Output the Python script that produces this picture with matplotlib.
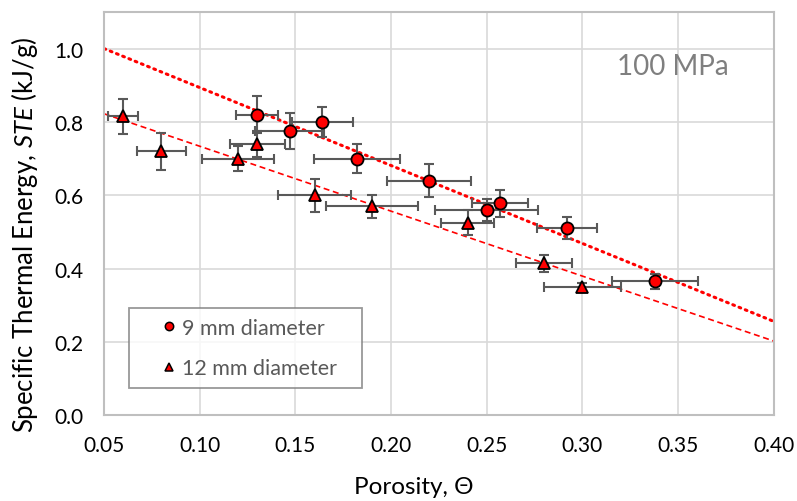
import numpy as np
import matplotlib
matplotlib.use('Agg')
import matplotlib.pyplot as plt

plt.rcParams['font.family'] = ['Lato', 'DejaVu Sans']
plt.rcParams['mathtext.fontset'] = 'custom'
plt.rcParams['mathtext.rm'] = 'Lato'
plt.rcParams['mathtext.it'] = 'Lato:italic'

# 9 mm diameter
x9 = [0.130, 0.147, 0.164, 0.182, 0.220, 0.250, 0.257, 0.292, 0.338]
y9 = [0.820, 0.775, 0.800, 0.700, 0.640, 0.560, 0.578, 0.510, 0.365]
x9err = [0.011, 0.018, 0.016, 0.0225, 0.022, 0.027, 0.0146, 0.0157, 0.0225]
y9err = [0.050, 0.050, 0.042, 0.040, 0.045, 0.030, 0.036, 0.030, 0.020]

# 12 mm diameter
x12 = [0.06, 0.08, 0.12, 0.13, 0.16, 0.19, 0.24, 0.28, 0.30]
y12 = [0.815, 0.720, 0.700, 0.740, 0.600, 0.570, 0.525, 0.415, 0.350]
x12err = [0.008, 0.013, 0.019, 0.0144, 0.019, 0.024, 0.014, 0.0146, 0.020]
y12err = [0.049, 0.050, 0.035, 0.035, 0.045, 0.032, 0.034, 0.023, 0.010]

xticks = [0.05, 0.10, 0.15, 0.20, 0.25, 0.30, 0.35, 0.40]
yticks = [0.0, 0.2, 0.4, 0.6, 0.8, 1.0]

fig = plt.figure(figsize=(7.97, 5.02), dpi=100)
ax = fig.add_axes([0.1305, 0.171, 0.8405, 0.803])

# trendlines (linear fit, like Excel)
xx = np.array([0.05, 0.40])
p9 = np.polyfit(x9, y9, 1)
p12 = np.polyfit(x12, y12, 1)
ax.plot(xx, np.polyval(p9, xx), color='red', lw=2.2, ls=(0, (0.6, 1.6)),
        dash_capstyle='round', zorder=2)
ax.plot(xx, np.polyval(p12, xx), color='red', lw=1.2, ls=(0, (3.6, 2.2)), zorder=2)

ekw = dict(ecolor='#595959', elinewidth=1.5, capsize=3.5, capthick=1.5, ls='none', zorder=3)
ax.errorbar(x9, y9, xerr=x9err, yerr=y9err, **ekw)
ax.errorbar(x12, y12, xerr=x12err, yerr=y12err, **ekw)
ax.plot(x9, y9, 'o', ms=8.7, mfc='red', mec='black', mew=1.3, ls='none', zorder=4)
ax.plot(x12, y12, '^', ms=8.5, mfc='red', mec='black', mew=1.3, ls='none', zorder=4)

# legend
h9, = ax.plot([], [], 'o', ms=6, mfc='red', mec='black', mew=1.1, ls='none', label='9 mm diameter')
h12, = ax.plot([], [], '^', ms=6, mfc='red', mec='black', mew=1.1, ls='none', label='12 mm diameter')
leg = ax.legend(handles=[h9, h12], loc='lower left', bbox_to_anchor=(0.0373, 0.067, 0.348, 0),
                mode='expand', fontsize=15.5, labelcolor='#595959', frameon=True, fancybox=False,
                edgecolor='#7f7f7f', borderpad=0.45, labelspacing=0.97, handletextpad=-0.8,
                handlelength=2.8, borderaxespad=0)
leg.get_frame().set_linewidth(1.3)

ax.text(0.347, 0.931, '100 MPa', fontsize=20, color='#7f7f7f', ha='center', va='baseline')

ax.set_xlim(0.05, 0.40)
ax.set_ylim(0.0, 1.1)
ax.set_xticks(xticks)
ax.set_yticks(yticks)
ax.set_xticklabels(['%.2f' % v for v in xticks])
ax.set_yticklabels(['%.1f' % v for v in yticks])
ax.tick_params(length=0, labelsize=15)
ax.tick_params(axis='x', pad=14)
ax.tick_params(axis='y', pad=15)
ax.grid(True, color='#d9d9d9', lw=1.2)
ax.set_axisbelow(True)
for s in ax.spines.values():
    s.set_color('#bfbfbf')
    s.set_linewidth(1.5)

ax.set_xlabel('Porosity, Θ', fontsize=17.5)
ax.set_ylabel('Specific Thermal Energy, $\\it{STE}$ (kJ/g)', fontsize=18.5)
ax.xaxis.set_label_coords(0.462, -0.151)
ax.yaxis.set_label_coords(-0.095, 0.449)

fig.savefig('out.png', dpi=100)
